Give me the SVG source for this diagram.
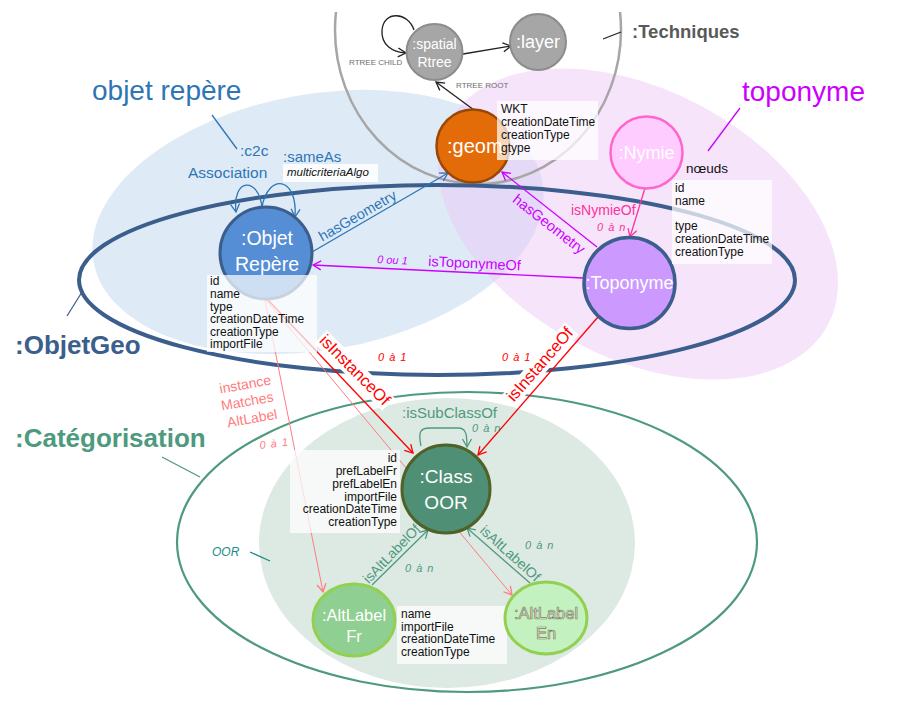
<svg xmlns="http://www.w3.org/2000/svg" width="908" height="701" viewBox="0 0 908 701">
<defs>
<style>
text{font-family:"Liberation Sans",Arial,sans-serif}
.attr{font-size:12px;fill:#111}
.box{fill:#fff;fill-opacity:.72}
.nl{fill:#fff;text-anchor:middle}
.it{font-style:italic}
.blue{fill:#2e75b6}
.mag{fill:#cc00ff}
.red{fill:#ff0000}
.sal{fill:#ff7c80}
.teal{fill:#4e9a7e}
.pink{fill:#ff3399}
.lead{fill:none;stroke-width:1.3}
</style>
<clipPath id="topclip"><rect x="0" y="12" width="908" height="689"/></clipPath>
<marker id="aBlk" markerUnits="userSpaceOnUse" markerWidth="12" markerHeight="12" refX="10" refY="6" orient="auto"><path d="M2,1.5 L10,6 L2,10.5" fill="none" stroke="#222" stroke-width="1.3"/></marker>
<marker id="aBlue" markerUnits="userSpaceOnUse" markerWidth="12" markerHeight="12" refX="10" refY="6" orient="auto"><path d="M2,1.5 L10,6 L2,10.5" fill="none" stroke="#2e75b6" stroke-width="1.3"/></marker>
<marker id="aMag" markerUnits="userSpaceOnUse" markerWidth="12" markerHeight="12" refX="10" refY="6" orient="auto"><path d="M2,1.5 L10,6 L2,10.5" fill="none" stroke="#cc00ff" stroke-width="1.3"/></marker>
<marker id="aPink" markerUnits="userSpaceOnUse" markerWidth="12" markerHeight="12" refX="10" refY="6" orient="auto"><path d="M2,1.5 L10,6 L2,10.5" fill="none" stroke="#ff3399" stroke-width="1.3"/></marker>
<marker id="aRed" markerUnits="userSpaceOnUse" markerWidth="12" markerHeight="12" refX="10" refY="6" orient="auto"><path d="M2,1.5 L10,6 L2,10.5" fill="none" stroke="#ff0000" stroke-width="1.3"/></marker>
<marker id="aSal" markerUnits="userSpaceOnUse" markerWidth="12" markerHeight="12" refX="10" refY="6" orient="auto"><path d="M2,1.5 L10,6 L2,10.5" fill="none" stroke="#ff7c80" stroke-width="1.3"/></marker>
<marker id="aTeal" markerUnits="userSpaceOnUse" markerWidth="12" markerHeight="12" refX="10" refY="6" orient="auto"><path d="M2,1.5 L10,6 L2,10.5" fill="none" stroke="#4e9a7e" stroke-width="1.3"/></marker>
</defs>
<rect width="908" height="701" fill="#fff"/>

<g id="zones">
  <ellipse id="zone-objet-repere" cx="318" cy="222" rx="228" ry="128" transform="rotate(-10 318 222)" fill="#bdd7ee" fill-opacity="0.5"/>
  <ellipse id="zone-toponyme" cx="638" cy="224" rx="215" ry="134" transform="rotate(28 638 224)" fill="#ecc3f6" fill-opacity="0.45"/>
  <g clip-path="url(#topclip)">
    <ellipse id="zone-techniques" cx="478" cy="30" rx="143" ry="154" fill="none" stroke="#a6a6a6" stroke-width="2.5"/>
  </g>
  <ellipse id="zone-objetgeo" cx="437" cy="280" rx="358" ry="95" fill="none" stroke="#3b5e8c" stroke-width="4"/>
  <ellipse id="zone-oor" cx="447" cy="543" rx="188" ry="145" fill="#dde9e3"/>
  <ellipse id="zone-categorisation" cx="467" cy="542" rx="290" ry="150" fill="none" stroke="#4e9a7e" stroke-width="2.2"/>
</g>

<g id="zone-labels">
  <text x="632" y="38" font-size="18.5" font-weight="bold" fill="#595959">:Techniques</text>
  <path class="lead" d="M603 39 L621 32" stroke="#222"/>
  <text x="92" y="100" font-size="28" class="blue">objet repère</text>
  <path class="lead" d="M212 115 L237 149" stroke="#2e75b6"/>
  <text x="742" y="101" font-size="28" class="mag">toponyme</text>
  <path class="lead" d="M740 108 L708 151" stroke="#cc00ff"/>
  <text x="15" y="354" font-size="26" font-weight="bold" fill="#3b5e8c">:ObjetGeo</text>
  <path class="lead" d="M67 316 L82 292" stroke="#3b5e8c"/>
  <text x="15" y="447" font-size="26" font-weight="bold" fill="#4e9a7e">:Catégorisation</text>
  <path class="lead" d="M162 457 L200 477" stroke="#4e9a7e"/>
  <text x="212" y="556" font-size="12" class="it" fill="#1a8a8a">OOR</text>
  <path class="lead" d="M250 552 L270 561" stroke="#1a8a8a"/>
</g>

<g id="connectors" fill="none" stroke-width="1.3">
  <path id="c-rtree-child" d="M414 30 C408 12 384 10 382 30 C381 45 392 52 406 53" stroke="#222" marker-end="url(#aBlk)"/>
  <path id="c-spatial-layer" d="M463 54 L511 46" stroke="#222" marker-end="url(#aBlk)"/>
  <path id="c-rtree-root" d="M474 110 L436 82" stroke="#222" marker-end="url(#aBlk)"/>
  <path id="c-c2c" d="M262 207 C258 176 232 178 236 212" stroke="#2e75b6" marker-end="url(#aBlue)"/>
  <path id="c-sameas" d="M262 207 C268 173 298 176 295 217" stroke="#2e75b6" marker-end="url(#aBlue)"/>
  <path id="c-hasgeom-or" d="M312 252 L448 173" stroke="#2e75b6" marker-end="url(#aBlue)"/>
  <path id="c-hasgeom-topo" d="M597 247 L502 172" stroke="#cc00ff" marker-end="url(#aMag)"/>
  <path id="c-istoponymeof" d="M583 278 L313 265" stroke="#cc00ff" marker-end="url(#aMag)"/>
  <path id="c-isnymieof" d="M645 188 L630 237" stroke="#ff3399" marker-end="url(#aPink)"/>
  <path id="c-match-fr" d="M265 300 L323 592" stroke="#ff7c80" stroke-width="1" marker-end="url(#aSal)"/>
  <path id="c-match-en" d="M266 300 L512 595" stroke="#ff7c80" stroke-width="1" marker-end="url(#aSal)"/>
  <path id="c-instance-or" d="M267 299 L413 453" stroke="#ff0000" marker-end="url(#aRed)"/>
  <path id="c-instance-topo" d="M598 317 L478 455" stroke="#ff0000" marker-end="url(#aRed)"/>
  <path id="c-subclass" d="M421 446 C418 432 420 428 430 428 L458 428 C466 428 467 434 467 447" stroke="#4e9a7e" marker-end="url(#aTeal)"/>
  <path id="c-altlabel-fr" d="M372 585 L428 530" stroke="#4e9a7e" marker-end="url(#aTeal)"/>
  <path id="c-altlabel-en" d="M530 583 L467 528" stroke="#4e9a7e" marker-end="url(#aTeal)"/>
</g>

<g id="connector-labels">
  <text x="349" y="65" font-size="8" fill="#6e6e6e">RTREE CHILD</text>
  <text x="456" y="88" font-size="8" fill="#6e6e6e">RTREE ROOT</text>
  <text x="240" y="156" font-size="15.5" class="blue">:c2c</text>
  <text x="188" y="178" font-size="15.5" class="blue">Association</text>
  <text x="283" y="162" font-size="15" class="blue">:sameAs</text>
  <rect x="283" y="164" width="95" height="18" fill="#fff" fill-opacity="0.85"/>
  <text x="287" y="176" font-size="11.5" class="it" fill="#111">multicriteriaAlgo</text>
  <text x="360" y="220" font-size="14.5" class="blue" text-anchor="middle" transform="rotate(-30 360 220)">hasGeometry</text>
  <text x="546" y="228" font-size="14.5" class="mag" text-anchor="middle" transform="rotate(38 546 228)">hasGeometry</text>
  <text x="377" y="263" font-size="11" class="mag it" transform="rotate(2.8 377 263)">0 ou 1</text>
  <text x="428" y="266" font-size="14.5" class="mag" transform="rotate(2.8 428 266)">isToponymeOf</text>
  <text x="571" y="215" font-size="14" class="pink">isNymieOf</text>
  <text x="597" y="231" font-size="11" class="pink it" letter-spacing="1">0 à n</text>
  <text x="686" y="173" font-size="13.5" fill="#111">nœuds</text>
  <g transform="rotate(45 351 374)">
    <rect x="303" y="360" width="96" height="18" fill="#fff"/>
    <text x="351" y="374" font-size="16.5" class="red" text-anchor="middle">isInstanceOf</text>
  </g>
  <g transform="rotate(-49 544 368)">
    <rect x="496" y="354" width="96" height="18" fill="#fff"/>
    <text x="544" y="368" font-size="16.5" class="red" text-anchor="middle">isInstanceOf</text>
  </g>
  <text x="378" y="361" font-size="11" class="red it" letter-spacing="1">0 à 1</text>
  <text x="502" y="361" font-size="11" class="red it" letter-spacing="1">0 à 1</text>
  <text x="246" y="389" font-size="14" class="sal" text-anchor="middle" transform="rotate(-10 246 389)">instance</text>
  <text x="248" y="406" font-size="14" class="sal" text-anchor="middle" transform="rotate(-10 248 406)">Matches</text>
  <text x="253" y="423" font-size="14" class="sal" text-anchor="middle" transform="rotate(-10 253 423)">AltLabel</text>
  <text x="260" y="449" font-size="11" class="sal it" letter-spacing="1" transform="rotate(-7 260 449)">0 à 1</text>
  <text x="402" y="418" font-size="15" class="teal">:isSubClassOf</text>
  <text x="472" y="432" font-size="11" class="teal it" letter-spacing="1">0 à n</text>
  <text x="395" y="557" font-size="14" class="teal" text-anchor="middle" transform="rotate(-46 395 557)">isAltLabelOf</text>
  <text x="405" y="572" font-size="11" class="teal it" letter-spacing="1">0 à n</text>
  <text x="507" y="557" font-size="14" class="teal" text-anchor="middle" transform="rotate(42 507 557)">isAltLabelOf</text>
  <text x="525" y="549" font-size="11" class="teal it" letter-spacing="1">0 à n</text>
</g>

<g id="node-spatial-rtree">
  <circle cx="434.5" cy="52" r="28" fill="#a6a6a6" stroke="#8c8c8c" stroke-width="2"/>
  <text x="434.5" y="49" font-size="14" class="nl">:spatial</text>
  <text x="434.5" y="67" font-size="14" class="nl">Rtree</text>
</g>
<g id="node-layer">
  <circle cx="538" cy="42" r="28" fill="#a6a6a6" stroke="#8c8c8c" stroke-width="2"/>
  <text x="538" y="48" font-size="18" class="nl">:layer</text>
</g>
<g id="node-geom">
  <circle cx="473" cy="146" r="36.5" fill="#e36c09" stroke="#984806" stroke-width="2.5"/>
  <text x="447" y="153" font-size="20" fill="#fff">:geom</text>
  <rect x="497" y="101" width="101" height="59" class="box"/>
  <text class="attr"><tspan x="501" y="113">WKT</tspan><tspan x="501" y="126">creationDateTime</tspan><tspan x="501" y="139">creationType</tspan><tspan x="501" y="152">gtype</tspan></text>
</g>
<g id="node-objet-repere">
  <circle cx="266" cy="253" r="46" fill="#558ed5" stroke="#3b5e8c" stroke-width="3"/>
  <text x="267" y="245" font-size="19.5" class="nl">:Objet</text>
  <text x="267" y="271" font-size="19.5" class="nl">Repère</text>
  <rect x="207" y="275" width="110" height="77" class="box"/>
  <text class="attr"><tspan x="210" y="285">id</tspan><tspan x="210" y="298">name</tspan><tspan x="210" y="310.5">type</tspan><tspan x="210" y="323">creationDateTime</tspan><tspan x="210" y="335.5">creationType</tspan><tspan x="210" y="348">importFile</tspan></text>
</g>
<g id="node-toponyme">
  <circle cx="629.5" cy="283" r="45.5" fill="#cc99ff" stroke="#3b5e8c" stroke-width="3.5"/>
  <text x="629.5" y="289" font-size="18" class="nl">:Toponyme</text>
</g>
<g id="node-nymie">
  <circle cx="646.5" cy="152.5" r="36" fill="#ffccff" stroke="#ff66cc" stroke-width="2.5"/>
  <text x="646.5" y="159" font-size="18" class="nl">:Nymie</text>
  <rect x="672" y="180" width="100" height="84" class="box"/>
  <text class="attr"><tspan x="675" y="192">id</tspan><tspan x="675" y="205">name</tspan><tspan x="675" y="230">type</tspan><tspan x="675" y="243">creationDateTime</tspan><tspan x="675" y="256">creationType</tspan></text>
</g>
<g id="node-class-oor">
  <circle cx="446" cy="489" r="44" fill="#4f8f76" stroke="#4f6228" stroke-width="3"/>
  <text x="446" y="483" font-size="19" class="nl">:Class</text>
  <text x="446" y="509" font-size="19" class="nl">OOR</text>
  <rect x="290" y="450" width="110" height="83" class="box"/>
  <text class="attr" text-anchor="end"><tspan x="397" y="462">id</tspan><tspan x="397" y="475">prefLabelFr</tspan><tspan x="397" y="488">prefLabelEn</tspan><tspan x="397" y="500.5">importFile</tspan><tspan x="397" y="513">creationDateTime</tspan><tspan x="397" y="525.5">creationType</tspan></text>
</g>
<g id="node-altlabel-fr">
  <ellipse cx="354" cy="620" rx="41" ry="36" fill="#8fcf91" stroke="#92d050" stroke-width="3"/>
  <text x="354" y="621" font-size="16.5" class="nl">:AltLabel</text>
  <text x="354" y="642" font-size="16.5" class="nl">Fr</text>
  <rect x="397" y="606" width="110" height="58" class="box"/>
  <text class="attr"><tspan x="401" y="618">name</tspan><tspan x="401" y="630.5">importFile</tspan><tspan x="401" y="643">creationDateTime</tspan><tspan x="401" y="655.5">creationType</tspan></text>
</g>
<g id="node-altlabel-en">
  <ellipse cx="546" cy="618" rx="41" ry="36" fill="#c3f2c0" stroke="#92d050" stroke-width="3"/>
  <text x="546" y="619" font-size="16.5" text-anchor="middle" fill="#eef5e6" stroke="#7d7d60" stroke-width="0.7">:AltLabel</text>
  <text x="546" y="639" font-size="16.5" text-anchor="middle" fill="#eef5e6" stroke="#7d7d60" stroke-width="0.7">En</text>
</g>
</svg>
